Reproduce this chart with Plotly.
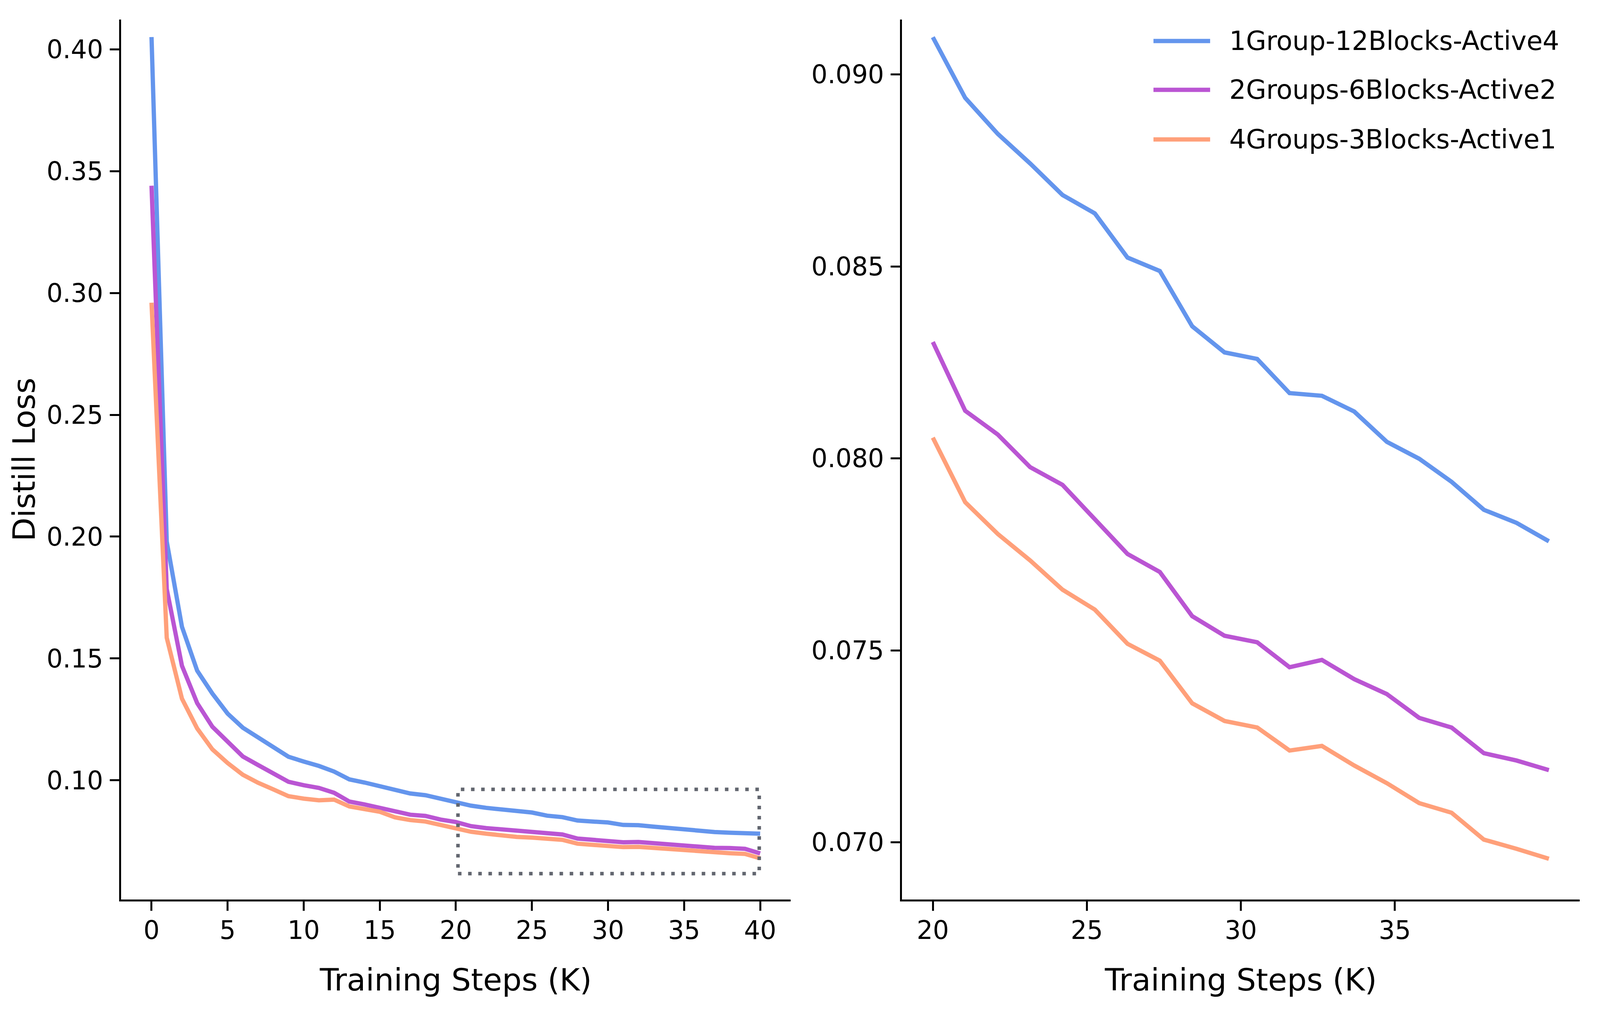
import math
import plotly.graph_objects as go

# ---------------- data ----------------
steps_full = list(range(0, 41))

loss_1g_12b_a4 = [0.405, 0.198, 0.163, 0.145, 0.1356, 0.1274, 0.1216, 0.1176, 0.1138, 0.1097,
                  0.1077, 0.1059, 0.1036, 0.1004, 0.0991, 0.0975, 0.0958, 0.0946, 0.0939, 0.0924,
                  0.0912, 0.0896, 0.0887, 0.0880, 0.0872, 0.0868, 0.0855, 0.0849, 0.0835, 0.0830,
                  0.0827, 0.0817, 0.0816, 0.0810, 0.0804, 0.0800, 0.0794, 0.0788, 0.0785, 0.0781,
                  0.0781]
loss_2g_6b_a2 = [0.344, 0.1785, 0.147, 0.1317, 0.1220, 0.1156, 0.1098, 0.1063, 0.1027, 0.0994,
                 0.0980, 0.0969, 0.0949, 0.0913, 0.0901, 0.0887, 0.0870, 0.0859, 0.0854, 0.0839,
                 0.0829, 0.0812, 0.0804, 0.0798, 0.0794, 0.0790, 0.0783, 0.0778, 0.0761, 0.0755,
                 0.0753, 0.0746, 0.0747, 0.0742, 0.0739, 0.0733, 0.0729, 0.0723, 0.0722, 0.0719,
                 0.0700]
loss_4g_3b_a1 = [0.296, 0.1585, 0.1335, 0.1213, 0.1127, 0.1071, 0.1023, 0.0990, 0.0963, 0.0935,
                 0.0925, 0.0918, 0.0921, 0.0893, 0.0882, 0.0871, 0.0848, 0.0837, 0.0831, 0.0817,
                 0.0806, 0.0789, 0.0781, 0.0774, 0.0768, 0.0765, 0.0761, 0.0756, 0.0740, 0.0734,
                 0.0731, 0.0726, 0.0727, 0.0722, 0.0717, 0.0713, 0.0709, 0.0703, 0.0701, 0.0698,
                 0.0680]

steps_zoom = [20.0, 21.05, 22.11, 23.16, 24.21, 25.26, 26.32, 27.37, 28.42, 29.47,
              30.53, 31.58, 32.63, 33.68, 34.74, 35.79, 36.84, 37.89, 38.95, 40.0]
zoom_1g_12b_a4 = [0.09097, 0.08939, 0.08845, 0.08768, 0.08686, 0.08638, 0.08523, 0.08488, 0.08344, 0.08276,
                  0.08259, 0.08170, 0.08163, 0.08122, 0.08043, 0.07999, 0.07939, 0.07866, 0.07832, 0.07784]
zoom_2g_6b_a2 = [0.08303, 0.08124, 0.08062, 0.07977, 0.07931, 0.07840, 0.07751, 0.07704, 0.07589, 0.07538,
                 0.07521, 0.07456, 0.07475, 0.07425, 0.07386, 0.07324, 0.07299, 0.07232, 0.07213, 0.07188]
zoom_4g_3b_a1 = [0.08054, 0.07886, 0.07803, 0.07734, 0.07658, 0.07606, 0.07517, 0.07473, 0.07362, 0.07316,
                 0.07299, 0.07239, 0.07251, 0.07200, 0.07154, 0.07102, 0.07077, 0.07007, 0.06983, 0.06957]

series_names = ["1Group-12Blocks-Active4", "2Groups-6Blocks-Active2", "4Groups-3Blocks-Active1"]
series_colors = ["#6495ED", "#BA55D3", "#FFA07A"]

left_xticks = [0, 5, 10, 15, 20, 25, 30, 35, 40]
left_yticks = [0.10, 0.15, 0.20, 0.25, 0.30, 0.35, 0.40]
right_xticks = [20, 25, 30, 35]
right_yticks = [0.070, 0.075, 0.080, 0.085, 0.090]

zoom_box_x = [20.14, 39.94]
zoom_box_y = [0.0617, 0.0963]

x_title = "Training Steps (K)"
y_title = "Distill Loss"

# ---------------- geometry ----------------
# The reference is 6592x2632; the browser viewport here is 4096x2632 CSS px,
# so the layout is built for the viewport with the reference proportions.
REF_W, REF_H = 6592, 2632
W, H = 4096, 2632
SX = W / REF_W
SY = H / REF_H
FS = math.sqrt(SX * SY)          # scale for fonts / strokes

ML = round(499 * SX)
MR = round(84 * SX)
MT = round(50 * SY)
MB = round(329 * SY)
FONT = "DejaVu Sans"

TICK_FONT = round(83 * FS)
TITLE_FONT = round(100 * FS)
LEG_FONT = round(85 * FS)
LINE_W = round(14 * FS)
AXIS_W = max(1, round(6 * FS))
TICK_LEN = round(30 * FS)

fig = go.Figure()

full_series = [loss_1g_12b_a4, loss_2g_6b_a2, loss_4g_3b_a1]
zoom_series = [zoom_1g_12b_a4, zoom_2g_6b_a2, zoom_4g_3b_a1]

for name, col, ys in zip(series_names, series_colors, full_series):
    fig.add_trace(go.Scatter(x=steps_full, y=ys, mode="lines", name=name,
                             line=dict(color=col, width=LINE_W), showlegend=False,
                             xaxis="x", yaxis="y"))
for name, col, ys in zip(series_names, series_colors, zoom_series):
    fig.add_trace(go.Scatter(x=steps_zoom, y=ys, mode="lines", name=name,
                             line=dict(color=col, width=LINE_W), showlegend=False,
                             xaxis="x2", yaxis="y2"))

axis_style = dict(showline=True, linecolor="black", linewidth=AXIS_W, mirror=False,
                  ticks="outside", ticklen=TICK_LEN, tickwidth=AXIS_W, tickcolor="black",
                  showgrid=False, zeroline=False,
                  tickfont=dict(family=FONT, size=TICK_FONT, color="black"))

title_font = dict(family=FONT, size=TITLE_FONT, color="black")

fig.update_layout(
    width=W, height=H,
    margin=dict(l=ML, r=MR, t=MT, b=MB, pad=0),
    paper_bgcolor="white", plot_bgcolor="white",
    font=dict(family=FONT, color="black"),
    xaxis=dict(domain=[0, 0.4590], range=[-2, 42], tickvals=left_xticks,
               ticklabelstandoff=-6,
               title=dict(text=x_title, font=title_font, standoff=64),
               anchor="y", **axis_style),
    yaxis=dict(domain=[0, 1], range=[0.0511, 0.4122], tickvals=left_yticks, tickformat=".2f",
               ticklabelstandoff=4,
               title=dict(text=y_title, font=title_font, standoff=5),
               anchor="x", **axis_style),
    xaxis2=dict(domain=[0.5354, 1], range=[19, 41], tickvals=right_xticks,
                ticklabelstandoff=-6,
                title=dict(text=x_title, font=title_font, standoff=64),
                anchor="y2", **axis_style),
    yaxis2=dict(domain=[0, 1], range=[0.06851, 0.09143], tickvals=right_yticks, tickformat=".3f",
                ticklabelstandoff=4, anchor="x2", **axis_style),
)

# dotted zoom-region box on the left panel
fig.add_shape(type="rect", xref="x", yref="y",
              x0=zoom_box_x[0], x1=zoom_box_x[1], y0=zoom_box_y[0], y1=zoom_box_y[1],
              line=dict(color="#62666f", width=round(11 * FS),
                        dash="%dpx,%dpx" % (round(12 * FS), round(21 * FS))),
              fillcolor="rgba(0,0,0,0)", layer="above")

# legend (upper right of right panel), drawn with matplotlib-like long handles
plot_w = W - ML - MR
plot_h = H - MT - MB
text_w = 12.67 * LEG_FONT                    # width of the longest legend label
text_right = 6428 * SX                       # right end of labels (reference proportion)
text_left_px = text_right - text_w
line_x1_px = text_left_px - 60 * FS
line_x0_px = line_x1_px - 184 * FS
leg_rows_px = [105 * SY, 230 * SY, 357 * SY]
for name, col, py in zip(series_names, series_colors, leg_rows_px):
    yy = (H - MB - py) / plot_h
    fig.add_shape(type="line", xref="paper", yref="paper",
                  x0=(line_x0_px - ML) / plot_w, x1=(line_x1_px - ML) / plot_w, y0=yy, y1=yy,
                  line=dict(color=col, width=LINE_W))
    fig.add_annotation(xref="paper", yref="paper", x=(text_left_px - ML) / plot_w, y=yy,
                       xanchor="left", yanchor="middle", text=name, showarrow=False,
                       font=dict(family=FONT, size=LEG_FONT, color="black"))

# If the viewport is not the expected size, fit the figure into it uniformly.
post_js = """
document.documentElement.style.margin = '0';
document.body.style.margin = '0';
document.body.style.padding = '0';
var s = Math.min(window.innerWidth / %d, window.innerHeight / %d);
if (Math.abs(s - 1) > 0.0005) { document.body.style.zoom = s; }
""" % (W, H)

fig.write_html("out.html", post_script=post_js, config={"displayModeBar": False})
